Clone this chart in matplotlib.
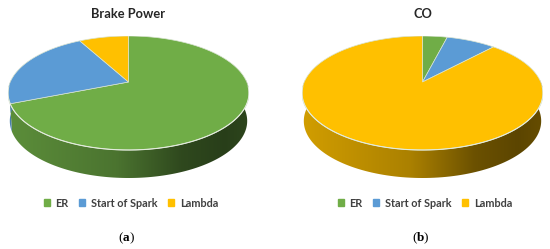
import numpy as np
import matplotlib
matplotlib.use("Agg")
import matplotlib.pyplot as plt
from matplotlib.patches import Patch, Polygon

# share of each parameter
labels = ["ER", "Start of Spark", "Lambda"]
brake_power = [69, 23, 8]
co = [4, 8, 88]
colors = ["#70AD47", "#5B9BD5", "#FFC000"]

W, H = 550, 249
TILT = 0.193  # perspective, moves the pie centre towards the back
DEPTH = 0.51  # wall height
BASE = 0.985  # the bottom rim looks a bit narrower than the top one

plt.rcParams["font.family"] = ["Lato", "DejaVu Sans"]
plt.rcParams["mathtext.fontset"] = "custom"
plt.rcParams["mathtext.rm"] = "Liberation Serif"
plt.rcParams["mathtext.bf"] = "Liberation Serif:bold"


def project(clock_deg):
    # clockwise angle from 12 o'clock -> point on the tilted rim
    t = np.radians(clock_deg)
    x, y = np.sin(t), np.cos(t)
    return x / (1 + TILT * y), y / (1 + TILT * y)


def gradient(color):
    xs = np.linspace(0, 1, 256)
    factor = np.interp(xs, [0, 0.45, 0.72, 0.9, 1], [0.82, 0.67, 0.42, 0.36, 0.4])
    return np.array(matplotlib.colors.to_rgb(color))[None, None, :] * factor[None, :, None]


def draw_pie(box, values, title, panel, legend_x):
    left, right, top, bottom = box
    ax = fig.add_axes([left / W, 1 - bottom / H, (right - left) / W, (bottom - top) / H])
    x_max = 1 / np.sqrt(1 - TILT ** 2)
    y_max = 1 / (1 + TILT)
    y_min = -1 / (1 - TILT)
    extent = (-x_max, x_max, y_min - DEPTH, y_max)
    edges = np.concatenate([[0], np.cumsum(values) * 3.6])

    # wall, one clipped gradient per slice
    for i, color in enumerate(colors):
        x, y = project(np.linspace(edges[i], edges[i + 1], 200))
        front = y < 0.05
        if not front.any():
            continue
        x, y = x[front], y[front]
        pts = np.concatenate([np.column_stack([x, y]),
                              np.column_stack([x * BASE, y - DEPTH])[::-1]])
        poly = Polygon(pts, closed=True, transform=ax.transData, fc="none", ec="none")
        ax.add_patch(poly)
        img = ax.imshow(gradient(color), extent=extent, aspect="auto", zorder=1)
        img.set_clip_path(poly)

    # top face
    for i, color in enumerate(colors):
        x, y = project(np.linspace(edges[i], edges[i + 1], 200))
        ax.fill(np.r_[0, x], np.r_[0, y], fc=color, ec="#D9E4D2", lw=0.5, zorder=2)

    # pale line along the front of the rim
    x, y = project(np.linspace(95, 265, 200))
    ax.plot(x, y, color="#E3EBDD", lw=0.8, zorder=3)

    ax.set_xlim(-x_max, x_max)
    ax.set_ylim(y_min - DEPTH, y_max)
    ax.axis("off")

    cx = (left + right) / 2
    fig.text(cx / W, 1 - 14 / H, title, ha="center", va="center", fontsize=9.3,
             fontweight="bold", color="#262626")
    fig.text((cx - 2) / W, 1 - 238 / H, panel, ha="center", va="center", fontsize=9.5,
             color="black")
    handles = [Patch(color=c) for c in colors]
    fig.legend(handles, labels, ncol=3, loc="center", bbox_to_anchor=(legend_x / W, 1 - 203 / H),
               frameon=False, handlelength=0.55, handleheight=0.55, handletextpad=0.5,
               columnspacing=1.0, labelcolor="#404040", borderpad=0,
               prop={"size": 7.8, "weight": "bold"})


fig = plt.figure(figsize=(W / 100, H / 100), dpi=100)
draw_pie((8, 249, 36, 178), brake_power, "Brake Power", r"$\mathrm{(}\mathbf{a}\mathrm{)}$", 131)
draw_pie((302, 543, 36, 178), co, "CO", r"$\mathrm{(}\mathbf{b}\mathrm{)}$", 425)
fig.savefig("out.png", dpi=100)
